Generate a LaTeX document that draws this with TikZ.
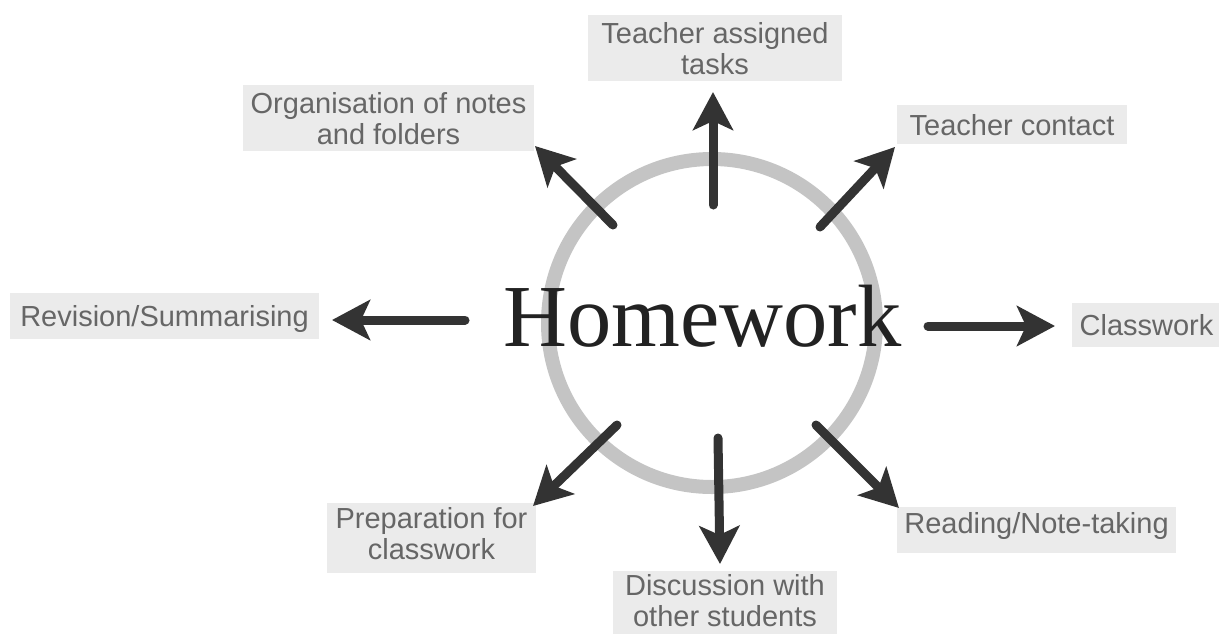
\documentclass[tikz,border=0pt]{standalone}
\usepackage{fontspec}
\setmainfont{Liberation Serif}
\newfontfamily\lsans{Liberation Sans}
\usetikzlibrary{arrows.meta}
\definecolor{boxfill}{HTML}{EBEBEB}
\definecolor{boxtext}{HTML}{666666}
\definecolor{ringgray}{HTML}{C4C4C4}
\definecolor{arrowdark}{HTML}{333333}
\definecolor{hwtext}{HTML}{222222}
\newcommand{\tp}[1]{\rule{0pt}{#1pt}}
\newcommand{\bt}[1]{\rule[-#1pt]{0pt}{#1pt}}
\begin{document}
\begin{tikzpicture}[x=1pt,y=-1pt,
  lbox/.style={fill=boxfill, text=boxtext, font=\lsans\fontsize{29}{31}\selectfont,
    align=center, inner sep=0pt, outer sep=0pt, anchor=center},
  arr/.style={draw=arrowdark, line width=9pt, line cap=round,
    -{Stealth[length=38pt,width=40pt,inset=9pt]}},
  ringstyle/.style={circle, draw=ringgray, line width=14pt, minimum size=328pt, inner sep=0pt}
]
\useasboundingbox (0,0) rectangle (1219,633);
% ring and centre text
\node[ringstyle] (ring) at (712,323) {};
\node[anchor=base, text=hwtext, font=\fontsize{88.5}{90}\selectfont, inner sep=0pt] (hw) at (702.5,346) {Homework};
% boxes
\node[lbox, minimum width=254pt, minimum height=66pt] (tat) at (715,48) {\tp{28}Teacher assigned\\tasks\bt{7}};
\node[lbox, minimum width=291pt, minimum height=66pt] (org) at (388.5,118) {\tp{28}Organisation of notes\\and folders\bt{7}};
\node[lbox, minimum width=230pt, minimum height=39pt] (tc) at (1012,124.5) {\tp{30}Teacher contact\bt{9}};
\node[lbox, minimum width=309pt, minimum height=46pt] (rev) at (164.5,316) {\tp{33}Revision/Summarising\bt{13}};
\node[lbox, minimum width=149pt, minimum height=44pt] (cls) at (1146.5,325) {\tp{32}Classwork\bt{12}};
\node[lbox, minimum width=209pt, minimum height=70pt] (prep) at (431.5,538) {\tp{25}Preparation for\\classwork\bt{14}};
\node[lbox, minimum width=224pt, minimum height=69pt] (disc) at (725,605.5) {\tp{24}Discussion with\\other students\bt{14}};
\node[lbox, minimum width=279pt, minimum height=46pt] (read) at (1036.5,530) {\tp{26}Reading/Note-taking\bt{20}};
% arrow ends
\coordinate (s1) at (713,205);  \coordinate (e1) at (713,92);
\coordinate (s2) at (613,225);  \coordinate (e2) at (535,146);
\coordinate (s3) at (820,227);  \coordinate (e3) at (895,147);
\coordinate (s4) at (465,320);  \coordinate (e4) at (332,320);
\coordinate (s5) at (928,326);  \coordinate (e5) at (1055,326);
\coordinate (s6) at (617,425);  \coordinate (e6) at (533,506);
\coordinate (s7) at (718,438);  \coordinate (e7) at (720,564);
\coordinate (s8) at (816,425);  \coordinate (e8) at (899,508);
\draw[arr] (s1) -- (e1);
\draw[arr] (s2) -- (e2);
\draw[arr] (s3) -- (e3);
\draw[arr] (s4) -- (e4);
\draw[arr] (s5) -- (e5);
\draw[arr] (s6) -- (e6);
\draw[arr] (s7) -- (e7);
\draw[arr] (s8) -- (e8);
\end{tikzpicture}
\end{document}
